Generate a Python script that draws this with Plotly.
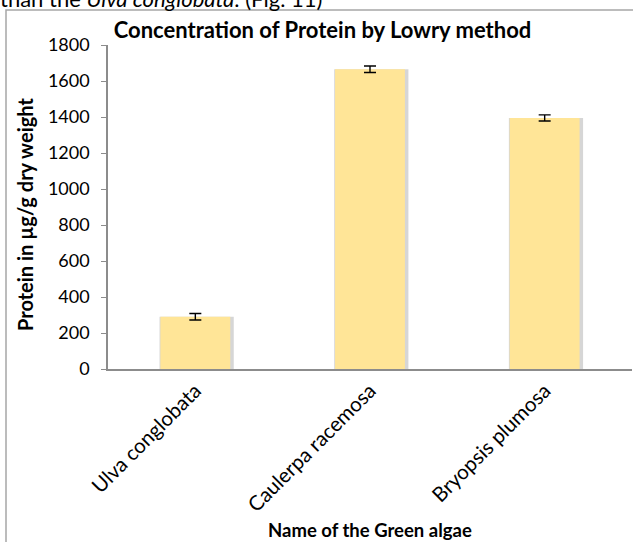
import plotly.graph_objects as go

categories = ["Ulva conglobata", "Caulerpa racemosa", "Bryopsis plumosa"]
protein = [290, 1665, 1395]
errors = [18, 18, 17]
y_ticks = [0, 200, 400, 600, 800, 1000, 1200, 1400, 1600, 1800]

FONT = "Lato"
W, H = 633, 542
L, R, T, B = 108, 1, 45, 173
PW, PH = W - L - R, H - T - B

def px_x(px):
    return (px - L) / PW

def px_y(py):
    return (H - B - py) / PH

fig = go.Figure()

# soft shadow behind bars
fig.add_trace(go.Bar(
    x=categories, y=protein, width=0.425, offset=-0.205,
    marker=dict(color="rgba(0,0,0,0.16)", line=dict(width=0)),
    hoverinfo="skip", showlegend=False,
))
fig.add_trace(go.Bar(
    x=categories, y=protein, width=0.4, offset=-0.2,
    marker=dict(color="#FFE597", line=dict(width=0)),
    error_y=dict(type="data", array=errors, visible=True,
                 color="black", thickness=1.4, width=6),
    showlegend=False,
))

fig.update_layout(
    width=W, height=H,
    margin=dict(l=L, r=R, t=T, b=B),
    barmode="overlay",
    paper_bgcolor="white", plot_bgcolor="white",
    font=dict(family=FONT, color="black"),
    title=dict(text="<b>Concentration of Protein by Lowry method</b>",
               font=dict(family=FONT, size=22, color="black"),
               x=322.5 / W, xanchor="center", y=1 - 30 / H, yanchor="middle"),
    xaxis=dict(
        showline=True, linecolor="#8C8C8C", linewidth=1.5,
        ticks="", showgrid=False, tickangle=-45,
        tickfont=dict(family=FONT, size=20.5, color="black"),
    ),
    yaxis=dict(
        range=[0, 1800], tickvals=y_ticks,
        showline=True, linecolor="#8C8C8C", linewidth=1.5,
        ticks="outside", ticklen=5, tickcolor="#8C8C8C", tickwidth=1.2,
        showgrid=False, zeroline=False,
        ticklabelstandoff=8,
        tickfont=dict(family=FONT, size=18, color="black"),
    ),
    shapes=[dict(type="rect", xref="paper", yref="paper",
                 x0=px_x(6), x1=1.2, y0=-0.8, y1=px_y(10),
                 line=dict(color="#A6A6A6", width=1.5), layer="below")],
    annotations=[
        dict(text="<b>Protein in µg/g dry weight</b>", textangle=-90,
             xref="paper", yref="paper", x=px_x(25), y=px_y(215),
             xanchor="center", yanchor="middle", showarrow=False,
             font=dict(family=FONT, size=20, color="black")),
        dict(text="<b>Name of the Green algae</b>",
             xref="paper", yref="paper", x=px_x(370), y=px_y(530),
             xanchor="center", yanchor="middle", showarrow=False,
             font=dict(family=FONT, size=18.5, color="black")),
        dict(text="than the <i>Ulva conglobata</i>. (Fig. 11)",
             xref="paper", yref="paper", x=px_x(-2), y=px_y(14),
             xanchor="left", yanchor="bottom", showarrow=False,
             font=dict(family=FONT, size=22, color="black")),
    ],
)

fig.write_html(
    "out.html",
    config={"displayModeBar": False},
    post_script="document.body.style.margin='0';document.body.style.overflow='hidden';",
)
